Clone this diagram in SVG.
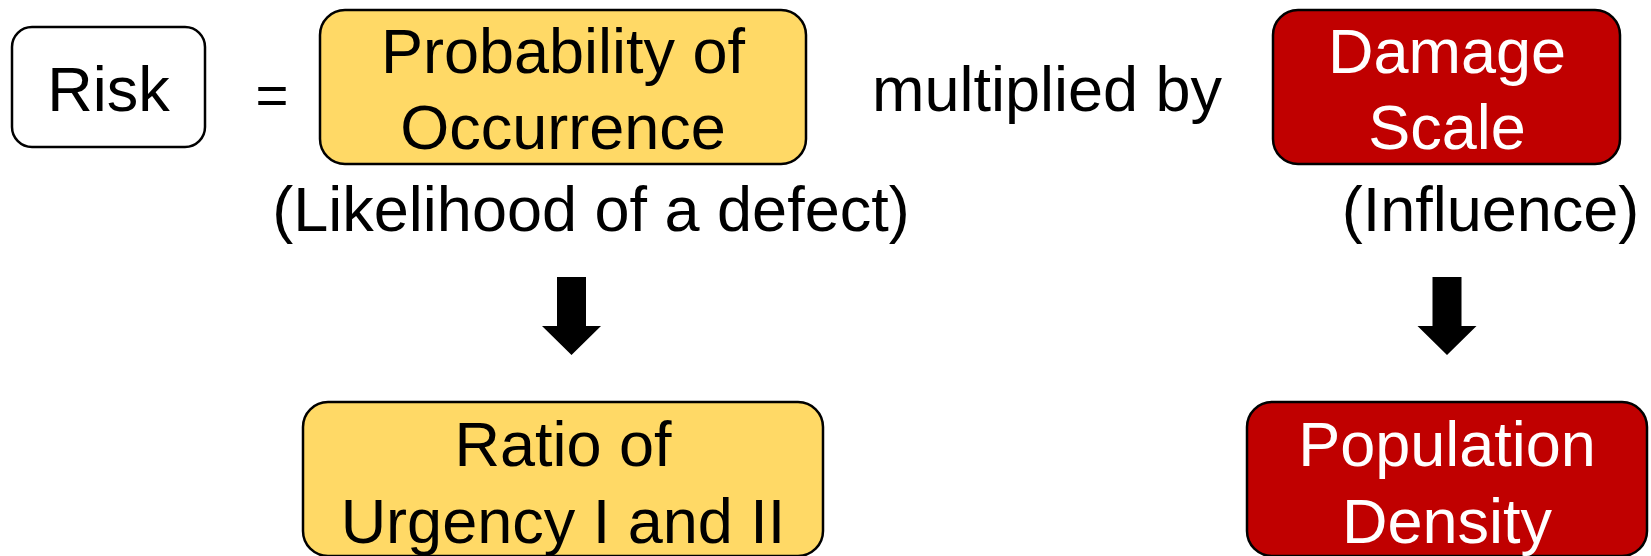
<svg xmlns="http://www.w3.org/2000/svg" width="1651" height="556" viewBox="0 0 1651 556">
<style>
  text { font-family: "Liberation Sans", Arial, sans-serif; font-size: 63px; text-anchor: middle; }
  .box { stroke: #000; stroke-width: 2.5; }
  .white { fill: #ffffff; }
  .yellow { fill: #FFD966; }
  .red { fill: #C00000; }
  .dark { fill: #000; }
  .light { fill: #fff; }
  .arrow { fill: #000; stroke: none; }
</style>
<rect width="1651" height="556" fill="#fff"/>
<g id="risk">
  <rect class="box white" x="12" y="27" width="193" height="120" rx="20" ry="20"/>
  <text class="dark" x="108.5" y="110.5">Risk</text>
</g>
<text id="equals" class="dark" x="272" y="114" style="font-size:56px" textLength="33" lengthAdjust="spacingAndGlyphs">=</text>
<g id="probability">
  <rect class="box yellow" x="320" y="10" width="486" height="154" rx="25" ry="25"/>
  <text class="dark" x="563" y="72.5">Probability of</text>
  <text class="dark" x="563" y="149">Occurrence</text>
</g>
<text id="likelihood" class="dark" x="591" y="231">(Likelihood of a defect)</text>
<text id="multiplied" class="dark" x="1047" y="110.5">multiplied by</text>
<g id="damage">
  <rect class="box red" x="1273" y="10" width="347" height="154" rx="25" ry="25"/>
  <text class="light" x="1447" y="72.5">Damage</text>
  <text class="light" x="1447" y="149">Scale</text>
</g>
<text id="influence" class="dark" x="1490.5" y="231">(Influence)</text>
<g id="connectors">
  <polygon class="arrow" points="557,277 586,277 586,326 601,326 571.5,355 542,326 557,326"/>
  <polygon class="arrow" points="1432.5,277 1461.5,277 1461.5,326 1476.5,326 1447,355 1417.5,326 1432.5,326"/>
</g>
<g id="ratio">
  <rect class="box yellow" x="303" y="402" width="520" height="154" rx="25" ry="25"/>
  <text class="dark" x="563" y="466">Ratio of</text>
  <text class="dark" x="563" y="542.5">Urgency I and II</text>
</g>
<g id="population">
  <rect class="box red" x="1247" y="402" width="400" height="154" rx="25" ry="25"/>
  <text class="light" x="1447" y="466">Population</text>
  <text class="light" x="1447" y="542.5">Density</text>
</g>
</svg>
